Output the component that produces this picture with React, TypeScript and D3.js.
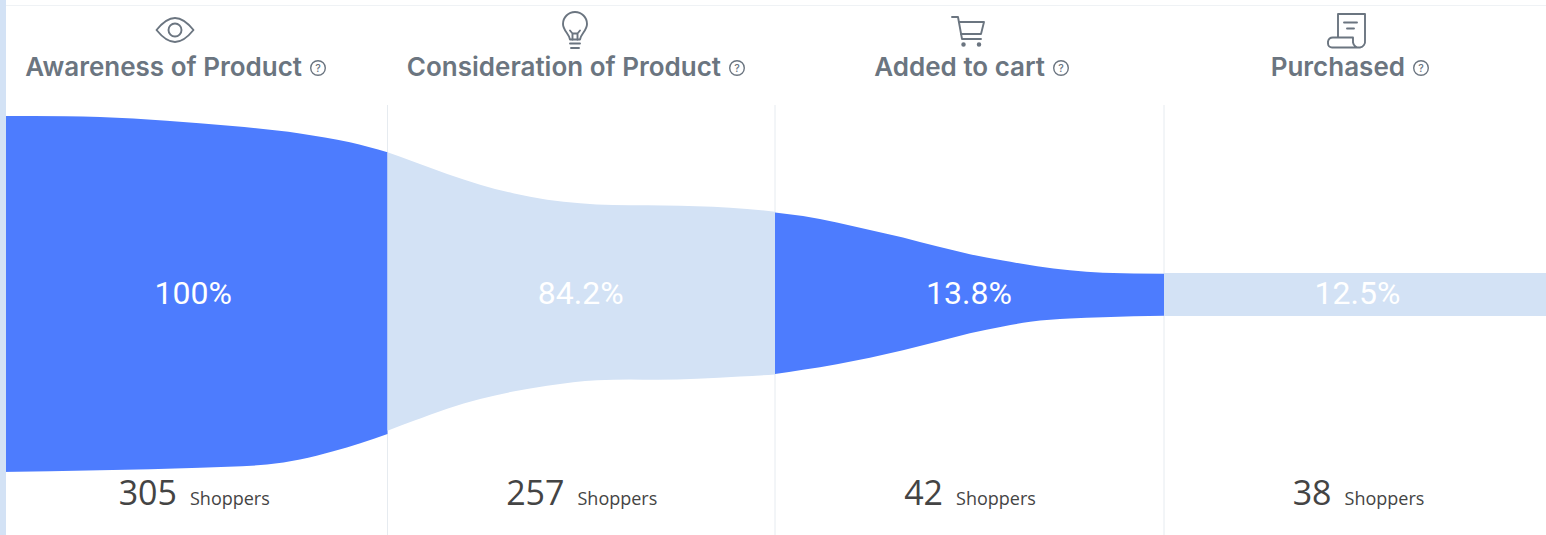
import React from 'react'
import * as d3 from 'd3'

const stages = ['Awareness of Product', 'Consideration of Product', 'Added to cart', 'Purchased']
const shoppers = [305, 257, 42, 38]
const percents = ['100%', '84.2%', '13.8%', '12.5%']

// funnel outline: stage position, share of the top stage above / below the centre line
const seg1Top = [[0, 50], [0.17, 49.95], [0.258, 49.7], [0.43, 48.7], [0.6, 47.2], [0.774, 45.1], [0.903, 42.6], [1, 39.8]]
const seg1Bottom = [[0, -50], [0.258, -49.5], [0.516, -48.8], [0.689, -47.9], [0.774, -46.5], [0.86, -44.2], [1, -39.3]]
const seg2Top = [[1, 39.8], [1.066, 37.2], [1.154, 33.7], [1.239, 30.7], [1.324, 28.3], [1.412, 26.5], [1.497, 25.5], [1.582, 25], [1.67, 24.9], [1.755, 24.8], [1.84, 24.5], [1.928, 23.9], [2, 23.1]]
const seg2Bottom = [[1, -38.4], [1.066, -35.7], [1.154, -32.2], [1.239, -29.5], [1.324, -27.4], [1.412, -25.8], [1.479, -24.8], [1.541, -24.2], [1.626, -24], [1.696, -24.1], [1.799, -23.8], [1.91, -23.2], [2, -22.6]]
const seg3Top = [[2, 22.9], [2.072, 21.9], [2.159, 20.1], [2.244, 18], [2.329, 15.9], [2.416, 13.4], [2.501, 11.2], [2.586, 9.4], [2.674, 7.8], [2.758, 6.7], [2.843, 6], [3, 5.7]]
const seg3Bottom = [[2, -22.5], [2.072, -21.3], [2.159, -19.7], [2.244, -17.9], [2.329, -15.8], [2.416, -13.4], [2.501, -11], [2.586, -9.1], [2.656, -7.8], [2.758, -6.9], [2.843, -6.5], [3, -6.1]]
const seg4Top = [[3, 5.9], [4, 5.9]]
const seg4Bottom = [[3, -6.2], [4, -6.2]]

const segments = [
  { top: seg1Top, bottom: seg1Bottom, fill: '#4d7cfe' },
  { top: seg2Top, bottom: seg2Bottom, fill: '#d3e2f5' },
  { top: seg3Top, bottom: seg3Bottom, fill: '#4d7cfe' },
  { top: seg4Top, bottom: seg4Bottom, fill: '#d3e2f5' },
]

const width = 1546
const height = 535
const grey = '#6b7580'

const x = d3.scaleLinear().domain([0, 1, 2, 3, 4]).range([0, 387.5, 775, 1164, 1552])
const y = d3.scaleLinear().domain([-50, 50]).range([472, 116])

const line = d3.line<number[]>().x(d => x(d[0])).y(d => y(d[1])).curve(d3.curveMonotoneX)

function outline(top: number[][], bottom: number[][]) {
  const t = line(top) as string
  const b = line([...bottom].reverse()) as string
  return t + 'L' + b.slice(1) + 'Z'
}

const iconStyle = { fill: 'none', stroke: grey, strokeWidth: 1.9, strokeLinecap: 'round', strokeLinejoin: 'round' } as const

// header icons, each around its own 0,0
const icons = [
  <g {...iconStyle} key="eye">
    <path d="M-18.5,0C-12,-8 -6,-12 0,-12C6,-12 12,-8 18.5,0C12,8 6,12 0,12C-6,12 -12,8 -18.5,0Z" />
    <circle r="6.5" />
  </g>,
  <g {...iconStyle} key="bulb">
    <path d="M-5,8C-6,2 -12,-1 -12,-7.5A12,12 0 0 1 12,-7.5C12,-1 6,2 5,8Z" />
    <path d="M-2.5,8V2L-5,-1M2.5,8V2L5,-1M-2.5,2H2.5" />
    <path d="M-5,12H5M-4,16.5H4" />
  </g>,
  <g {...iconStyle} key="cart">
    <path d="M-17,-14H-11L-7,8H12" />
    <path d="M-10,-9H15L12,3H-8" />
    <circle cx="-5.5" cy="13.5" r="1.3" fill={grey} />
    <circle cx="10" cy="13.5" r="1.3" fill={grey} />
  </g>,
  <g {...iconStyle} key="receipt">
    <path d="M-9,7V-16.5H18V10A6,6 0 0 1 6,12V7H-14A5,5 0 0 0 -19,11V13A4,4 0 0 0 -15,17H12" />
    <path d="M-3,-8H10M0,-2H7" />
  </g>,
]

const headerX = [176.5, 576, 970, 1350.5]
const iconX = [175, 575, 969, 1347]
const iconY = [30, 31.5, 31, 30.5]
const helpGap = 24

export default function App() {
  return (
    <svg width={width} height={height} style={{ position: 'absolute', left: 0, top: 0, background: '#fff' }}>
      <line x1={0} x2={width} y1={5.5} y2={5.5} stroke="#eff2f5" />

      {[1, 2, 3].map(d => (
        <line key={d} x1={x(d)} x2={x(d)} y1={105} y2={height} stroke="#e6ebf0" />
      ))}

      {segments.map((s, i) => (
        <path key={i} d={outline(s.top, s.bottom)} fill={s.fill} />
      ))}

      <rect x={0} y={0} width={6} height={height} fill="#d3e2f5" />

      {stages.map((name, i) => {
        const w = [299, 338, 198, 157][i]
        const end = headerX[i] + w / 2 - helpGap
        return (
          <g key={name}>
            <g transform={`translate(${iconX[i]},${iconY[i]})`}>{icons[i]}</g>
            <text x={end} y={76} textAnchor="end" fontFamily="Inter, sans-serif" fontWeight={600} fontSize={26} fill={grey}>
              {name}
            </text>
            <g transform={`translate(${end + 16},68)`}>
              <circle r={7.3} fill="none" stroke={grey} strokeWidth={1.4} />
              <text y={4} textAnchor="middle" fontFamily="Inter, sans-serif" fontSize={10.5} fontWeight={500} fill={grey}>?</text>
            </g>
            <text x={x(i + 0.5) - 0.5} y={304} textAnchor="middle" fontFamily="Roboto, sans-serif" fontWeight={400} fontSize={32} fill="#fff">
              {percents[i]}
            </text>
            <text x={x(i + 0.5) + 0.5} y={505} textAnchor="middle" fontFamily="'Open Sans', sans-serif" fill="#444">
              <tspan fontSize={34}>{shoppers[i]}</tspan>
              <tspan dx={13} fontSize={18}>Shoppers</tspan>
            </text>
          </g>
        )
      })}
    </svg>
  )
}
